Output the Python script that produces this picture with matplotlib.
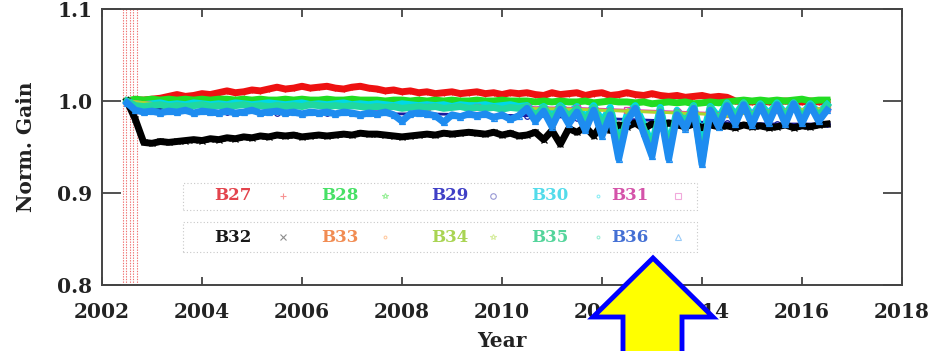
import numpy as np
import matplotlib
matplotlib.use("Agg")
import matplotlib.pyplot as plt
from matplotlib.patches import Polygon, Rectangle

# ---- data -------------------------------------------------------------
bands = ["B27", "B28", "B29", "B30", "B31", "B32", "B33", "B34", "B35", "B36"]
band_colors = ["#ee1111", "#22dd22", "#1a1aa0", "#00d8e8", "#e040b0",
               "#000000", "#ff8c30", "#a8d830", "#20d8a0", "#1e8cf0"]
legend_colors = ["#e0303a", "#33dd55", "#2a2ac0", "#40d8e8", "#d040a0",
                 "#000000", "#f08040", "#a0d040", "#40d090", "#3060d0"]
band_markers = ["+", "*", "o", ".", "s", "x", ".", "*", ".", "^"]

# sampling grids (decimal year)
t_fine = np.arange(2002.5, 2016.5 + 1e-6, 1.0 / 6.0)
t_year = np.arange(2002.5, 2016.5 + 1e-6, 1.0)

gain_b27 = [1.000, 1.001, 1.001, 1.002, 1.003, 1.005,
            1.007, 1.005, 1.006, 1.008, 1.007, 1.009,
            1.011, 1.009, 1.010, 1.012, 1.011, 1.013,
            1.015, 1.013, 1.014, 1.016, 1.014, 1.015,
            1.016, 1.014, 1.013, 1.015, 1.016, 1.014,
            1.013, 1.011, 1.012, 1.010, 1.011, 1.009,
            1.010, 1.008, 1.009, 1.010, 1.008, 1.009,
            1.010, 1.008, 1.009, 1.007, 1.009, 1.008,
            1.009, 1.007, 1.006, 1.009, 1.007, 1.008,
            1.009, 1.006, 1.008, 1.009, 1.006, 1.007,
            1.009, 1.007, 1.006, 1.008, 1.006, 1.005,
            1.006, 1.004, 1.005, 1.006, 1.004, 1.005,
            1.004, 1.000, 0.999, 0.999, 1.000, 0.999,
            0.999, 1.000, 0.999, 0.999, 1.000, 0.999,
            0.999]

gain_b28 = [1.000, 1.002, 1.001, 1.002, 1.001, 1.002,
            1.001, 1.002, 1.001, 1.002, 1.001, 1.002,
            1.002, 1.001, 1.002, 1.001, 1.002, 1.001,
            1.001, 1.002, 1.001, 1.002, 1.001, 1.001,
            1.002, 1.001, 1.001, 1.002, 1.001, 1.001,
            1.001, 1.000, 1.001, 1.001, 1.000, 1.001,
            1.000, 1.001, 1.000, 1.001, 1.000, 1.000,
            1.001, 1.000, 1.000, 1.001, 1.000, 1.000,
            1.000, 0.999, 1.000, 0.999, 1.000, 0.999,
            0.999, 1.000, 0.998, 0.999, 1.000, 0.999,
            0.999, 0.998, 0.999, 0.997, 0.998, 0.999,
            0.998, 0.999, 0.997, 0.998, 0.999, 0.998,
            0.999, 1.000, 1.001, 1.000, 1.001, 1.000,
            1.001, 1.000, 1.001, 1.002, 1.000, 1.001,
            1.001]

gain_b29 = [0.998, 0.988, 0.988, 0.987, 0.987, 0.986, 0.986, 0.985,
            0.984, 0.982, 0.980, 0.978, 0.976, 0.975, 0.975]

gain_b30 = [0.999, 0.997, 0.996, 0.997, 0.998, 0.996,
            0.997, 0.996, 0.998, 0.997, 0.996, 0.997,
            0.996, 0.998, 0.997, 0.996, 0.997, 0.998,
            0.997, 0.996, 0.997, 0.998, 0.996, 0.997,
            0.996, 0.997, 0.998, 0.996, 0.997, 0.996,
            0.997, 0.996, 0.995, 0.997, 0.996, 0.995,
            0.996, 0.995, 0.996, 0.994, 0.996, 0.995,
            0.995, 0.996, 0.994, 0.995, 0.996, 0.994,
            0.995, 0.988, 0.994, 0.985, 0.995, 0.987,
            0.994, 0.982, 0.995, 0.978, 0.993, 0.955,
            0.985, 0.995, 0.975, 0.952, 0.993, 0.950,
            0.990, 0.980, 0.995, 0.958, 0.994, 0.982,
            0.998, 0.985, 0.998, 0.984, 0.997, 0.986,
            0.998, 0.986, 0.998, 0.985, 0.997, 0.987,
            0.996]

gain_b31 = [1.000, 0.995, 0.995, 0.995, 0.994, 0.994, 0.994, 0.993,
            0.993, 0.992, 0.990, 0.988, 0.986, 0.990, 0.992]

gain_b32 = [1.000, 0.980, 0.955, 0.954, 0.956, 0.955,
            0.956, 0.957, 0.958, 0.957, 0.959, 0.958,
            0.960, 0.959, 0.961, 0.960, 0.962, 0.961,
            0.963, 0.962, 0.963, 0.961, 0.962, 0.963,
            0.962, 0.963, 0.964, 0.963, 0.965, 0.964,
            0.964, 0.963, 0.962, 0.961, 0.962, 0.963,
            0.964, 0.963, 0.965, 0.964, 0.965, 0.966,
            0.965, 0.964, 0.966, 0.963, 0.965, 0.962,
            0.963, 0.966, 0.958, 0.968, 0.953, 0.970,
            0.966, 0.972, 0.962, 0.975, 0.968, 0.974,
            0.972, 0.976, 0.970, 0.975, 0.973, 0.976,
            0.974, 0.972, 0.975, 0.971, 0.974, 0.972,
            0.973, 0.971, 0.974, 0.972, 0.973, 0.971,
            0.972, 0.974, 0.971, 0.973, 0.972, 0.974,
            0.975]

gain_b33 = [1.000, 0.994, 0.994, 0.994, 0.994, 0.993, 0.993, 0.993,
            0.992, 0.991, 0.989, 0.987, 0.985, 0.989, 0.991]

gain_b34 = [1.000, 0.995, 0.995, 0.994, 0.994, 0.994, 0.993, 0.993,
            0.992, 0.991, 0.989, 0.987, 0.985, 0.990, 0.992]

gain_b35 = [1.000, 0.995, 0.994, 0.995, 0.996, 0.994,
            0.995, 0.994, 0.995, 0.996, 0.994, 0.995,
            0.994, 0.995, 0.996, 0.994, 0.995, 0.994,
            0.995, 0.994, 0.995, 0.994, 0.996, 0.995,
            0.994, 0.995, 0.994, 0.995, 0.994, 0.993,
            0.994, 0.993, 0.994, 0.992, 0.993, 0.994,
            0.993, 0.994, 0.992, 0.993, 0.994, 0.992,
            0.993, 0.992, 0.993, 0.991, 0.993, 0.992,
            0.994, 0.984, 0.993, 0.980, 0.994, 0.983,
            0.992, 0.978, 0.993, 0.974, 0.990, 0.950,
            0.980, 0.993, 0.970, 0.948, 0.991, 0.945,
            0.988, 0.976, 0.994, 0.935, 0.993, 0.978,
            0.997, 0.982, 0.998, 0.980, 0.996, 0.983,
            0.997, 0.983, 0.998, 0.982, 0.996, 0.984,
            0.995]

gain_b36 = [0.998, 0.990, 0.988, 0.989, 0.987, 0.989,
            0.988, 0.990, 0.987, 0.989, 0.988, 0.987,
            0.989, 0.987, 0.988, 0.990, 0.987, 0.988,
            0.989, 0.987, 0.988, 0.986, 0.988, 0.987,
            0.988, 0.986, 0.988, 0.987, 0.985, 0.987,
            0.986, 0.988, 0.985, 0.978, 0.986, 0.987,
            0.986, 0.984, 0.977, 0.985, 0.983, 0.986,
            0.984, 0.986, 0.982, 0.985, 0.980, 0.984,
            0.992, 0.978, 0.989, 0.972, 0.991, 0.975,
            0.988, 0.968, 0.990, 0.962, 0.985, 0.937,
            0.978, 0.992, 0.965, 0.940, 0.988, 0.937,
            0.985, 0.970, 0.992, 0.931, 0.990, 0.972,
            0.995, 0.975, 0.996, 0.974, 0.995, 0.976,
            0.996, 0.975, 0.997, 0.976, 0.995, 0.978,
            0.990]

series = [
    (t_fine, gain_b27), (t_fine, gain_b28), (t_year, gain_b29),
    (t_fine, gain_b30), (t_year, gain_b31), (t_fine, gain_b32),
    (t_year, gain_b33), (t_year, gain_b34), (t_fine, gain_b35),
    (t_fine, gain_b36),
]

# instrument events shortly after launch
event_years = [2002.42, 2002.48, 2002.56, 2002.62, 2002.70]

x_ticks = [2002, 2004, 2006, 2008, 2010, 2012, 2014, 2016, 2018]
y_ticks = [0.8, 0.9, 1.0, 1.1]

# ---- figure -----------------------------------------------------------
W, H = 937, 351
fig = plt.figure(figsize=(W / 100, H / 100), dpi=100)
ax = fig.add_axes([102 / W, 1 - 285 / H, 800 / W, 276 / H])

font = dict(family="DejaVu Serif", weight="bold")

for yr in event_years:
    ax.axvline(yr, color="#f07070", lw=0.8, ls=(0, (1.2, 1.2)), zorder=1)

for i, ((t, g), name) in enumerate(zip(series, bands)):
    hidden = t is t_year
    ax.plot(t, g, color=band_colors[i], lw=2.0 if hidden else 5.0,
            marker=band_markers[i], ms=4, mew=0.9,
            markerfacecolor="none", solid_joinstyle="round",
            zorder=2 + i)

ax.set_xlim(2002, 2018)
ax.set_ylim(0.8, 1.1)
ax.set_xticks(x_ticks)
ax.set_yticks(y_ticks)
ax.set_xticklabels([str(v) for v in x_ticks], **font, fontsize=14.5)
ax.set_yticklabels([f"{v:.1f}" for v in y_ticks], **font, fontsize=14.5)
ax.tick_params(axis="x", direction="in", length=6, width=1.2,
               top=True, bottom=True, pad=12, colors="#333333",
               labelcolor="#222222")
ax.tick_params(axis="y", direction="in", length=14, width=1.2,
               left=True, right=True, pad=7, colors="#333333",
               labelcolor="#222222")
for sp in ax.spines.values():
    sp.set_linewidth(1.4)
    sp.set_color("#444444")

ax.set_xlabel("Year", **font, fontsize=14.5, color="#222222")
ax.set_ylabel("Norm. Gain", **font, fontsize=14.5, color="#222222")
ax.xaxis.set_label_coords(0.5, -0.203)
ax.yaxis.set_label_coords(-0.095, 0.5)
ax.xaxis.label.set_va("center")
ax.yaxis.label.set_va("center")

# ---- legend: two dotted boxes of five entries each --------------------
def px_to_axes(px, py):
    return (px - 102) / 800, (285 - py) / 276

for top, bot in [(183, 210), (222, 252)]:
    x0, y0 = px_to_axes(183, bot)
    x1, y1 = px_to_axes(697, top)
    ax.add_patch(Rectangle((x0, y0), x1 - x0, y1 - y0,
                           transform=ax.transAxes, fill=False,
                           ec="#c8c8c8", lw=0.8, ls=(0, (1, 2)),
                           zorder=20))

label_px = [233, 340, 450, 550, 630]
marker_px = [283, 385, 493, 598, 678]
row_py = [196, 237]
for i, name in enumerate(bands):
    row, col = divmod(i, 5)
    tx, ty = px_to_axes(label_px[col], row_py[row])
    ax.text(tx, ty, name, transform=ax.transAxes, ha="center",
            va="center", family="DejaVu Serif", weight="bold",
            fontsize=12, color=legend_colors[i], alpha=0.9, zorder=21)
    mx, my = px_to_axes(marker_px[col], row_py[row])
    ax.plot([mx], [my], transform=ax.transAxes, ls="none",
            marker=band_markers[i], ms=4, mew=0.8, markerfacecolor="none",
            color=band_colors[i], alpha=0.45, zorder=21)

# ---- highlight arrow --------------------------------------------------
arrow_px = [(653, 258), (713, 317), (682, 317), (682, 365),
            (623, 365), (623, 317), (593, 317)]
arrow = Polygon([(x / W, 1 - y / H) for x, y in arrow_px], closed=True,
                transform=fig.transFigure, fc="#ffff00", ec="#0000ff",
                lw=3.5, joinstyle="miter", zorder=50)
fig.patches.append(arrow)

fig.savefig("out.png", dpi=100)
